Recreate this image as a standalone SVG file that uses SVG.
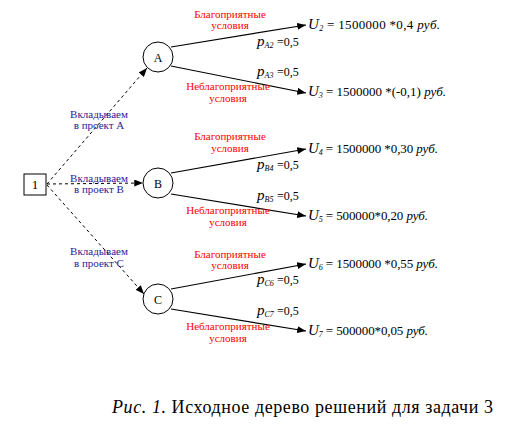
<svg xmlns="http://www.w3.org/2000/svg" width="528" height="431" viewBox="0 0 528 431">
<defs>
<marker id="arr" viewBox="0 0 10 8" refX="10" refY="4" markerWidth="9" markerHeight="7" markerUnits="userSpaceOnUse" orient="auto">
<path d="M0,0 L10,4 L0,8 Z" fill="#000"/>
</marker>
<style>
text{font-family:"Times New Roman",Times,"Liberation Serif",Tinos,"Noto Serif","DejaVu Serif",serif}
.t{fill:#000}
.red{font-size:11px;fill:#ff0000;text-anchor:middle}
.blue{font-size:11px;fill:#2a1a96;text-anchor:middle}
.u{font-size:13px;fill:#000}
.p{font-size:12px;fill:#000}
.it{font-style:italic}
.sub{font-size:8px;font-style:italic}
.sol{stroke:#000;stroke-width:1.2;fill:none;marker-end:url(#arr)}
.dash{stroke:#000;stroke-width:1;stroke-dasharray:3,3;fill:none;marker-end:url(#arr)}
.node{fill:#fff;stroke:#000;stroke-width:1}
</style>
</defs>
<rect width="528" height="431" fill="#fff"/>
<g id="connectors">
<line class="dash" x1="47" y1="184" x2="147" y2="68"/>
<line class="dash" x1="47" y1="184" x2="143" y2="183"/>
<line class="dash" x1="47" y1="185" x2="144" y2="294"/>
<line class="sol" x1="171" y1="47" x2="306" y2="25"/>
<line class="sol" x1="171" y1="66" x2="306" y2="93"/>
<line class="sol" x1="171" y1="173" x2="306" y2="149"/>
<line class="sol" x1="171" y1="194" x2="306" y2="216"/>
<line class="sol" x1="171" y1="289" x2="306" y2="264"/>
<line class="sol" x1="171" y1="309" x2="306" y2="331"/>
</g>
<g id="node1">
<rect class="node" x="24" y="174" width="22" height="21"/>
<text class="t" x="35" y="189" font-size="13" text-anchor="middle">1</text>
</g>
<g id="nodeA">
<circle class="node" cx="158" cy="57" r="15"/>
<text class="t" x="158" y="61.5" font-size="12" text-anchor="middle">A</text>
</g>
<g id="nodeB">
<circle class="node" cx="158" cy="183" r="15"/>
<text class="t" x="158" y="187.5" font-size="12" text-anchor="middle">B</text>
</g>
<g id="nodeC">
<circle class="node" cx="158" cy="299" r="15"/>
<text class="t" x="158" y="303.5" font-size="12" text-anchor="middle">C</text>
</g>
<g id="labels">
<text class="blue" x="99" y="118">Вкладываем</text>
<text class="blue" x="99" y="129">в проект А</text>
<text class="blue" x="99" y="182">Вкладываем</text>
<text class="blue" x="99" y="193">в проект В</text>
<text class="blue" x="99" y="255">Вкладываем</text>
<text class="blue" x="99" y="267">в проект С</text>

<text class="red" x="230" y="18">Благоприятные</text>
<text class="red" x="230" y="29">условия</text>
<text class="red" x="228" y="90">Неблагоприятные</text>
<text class="red" x="228" y="102">условия</text>
<text class="red" x="230" y="140">Благоприятные</text>
<text class="red" x="230" y="152">условия</text>
<text class="red" x="228" y="214">Неблагоприятные</text>
<text class="red" x="228" y="226">условия</text>
<text class="red" x="230" y="258">Благоприятные</text>
<text class="red" x="230" y="269">условия</text>
<text class="red" x="228" y="330">Неблагоприятные</text>
<text class="red" x="228" y="342">условия</text>

<text class="p" x="257" y="46"><tspan class="it" font-size="15">p</tspan><tspan class="sub" dy="2">A2</tspan><tspan x="277" dy="-2">=0,5</tspan></text>
<text class="p" x="257" y="76"><tspan class="it" font-size="15">p</tspan><tspan class="sub" dy="2">A3</tspan><tspan x="277" dy="-2">=0,5</tspan></text>
<text class="p" x="257" y="169"><tspan class="it" font-size="15">p</tspan><tspan class="sub" dy="2">B4</tspan><tspan x="277" dy="-2">=0,5</tspan></text>
<text class="p" x="257" y="200"><tspan class="it" font-size="15">p</tspan><tspan class="sub" dy="2">B5</tspan><tspan x="277" dy="-2">=0,5</tspan></text>
<text class="p" x="257" y="284"><tspan class="it" font-size="15">p</tspan><tspan class="sub" dy="2">C6</tspan><tspan x="277" dy="-2">=0,5</tspan></text>
<text class="p" x="257" y="315"><tspan class="it" font-size="15">p</tspan><tspan class="sub" dy="2">C7</tspan><tspan x="277" dy="-2">=0,5</tspan></text>

<text class="u" x="308" y="29" textLength="132" lengthAdjust="spacing"><tspan class="it" font-size="15">U</tspan><tspan class="sub" dy="2">2</tspan><tspan dy="-2"> = 1500000 *0,4 </tspan><tspan class="it">руб.</tspan></text>
<text class="u" x="308" y="96" textLength="138" lengthAdjust="spacing"><tspan class="it" font-size="15">U</tspan><tspan class="sub" dy="2">3</tspan><tspan dy="-2"> = 1500000 *(-0,1) </tspan><tspan class="it">руб.</tspan></text>
<text class="u" x="308" y="153" textLength="130" lengthAdjust="spacing"><tspan class="it" font-size="15">U</tspan><tspan class="sub" dy="2">4</tspan><tspan dy="-2"> = 1500000 *0,30 </tspan><tspan class="it">руб.</tspan></text>
<text class="u" x="308" y="220" textLength="120" lengthAdjust="spacing"><tspan class="it" font-size="15">U</tspan><tspan class="sub" dy="2">5</tspan><tspan dy="-2"> = 500000*0,20 </tspan><tspan class="it">руб.</tspan></text>
<text class="u" x="308" y="268" textLength="130" lengthAdjust="spacing"><tspan class="it" font-size="15">U</tspan><tspan class="sub" dy="2">6</tspan><tspan dy="-2"> = 1500000 *0,55 </tspan><tspan class="it">руб.</tspan></text>
<text class="u" x="308" y="335" textLength="120" lengthAdjust="spacing"><tspan class="it" font-size="15">U</tspan><tspan class="sub" dy="2">7</tspan><tspan dy="-2"> = 500000*0,05 </tspan><tspan class="it">руб.</tspan></text>

<text class="t" x="112" y="413" font-size="18" textLength="381" lengthAdjust="spacing"><tspan class="it">Рис. 1.</tspan> Исходное дерево решений для задачи 3</text>
</g>
</svg>
